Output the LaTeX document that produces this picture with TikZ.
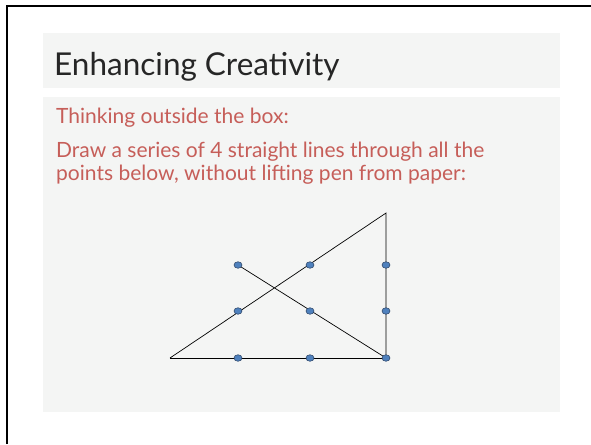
\documentclass[tikz,border=0pt]{standalone}
\usepackage{fontspec}
\setmainfont{Lato}
\usepackage{xcolor}
\usepackage{tikz}
\definecolor{slidegray}{HTML}{F4F5F4}
\definecolor{slidered}{HTML}{C65E59}
\definecolor{dotblue}{HTML}{4F81BD}
\definecolor{dotedge}{HTML}{2B4466}
\tikzset{
	dot/.style={draw=dotedge,fill=dotblue,line width=0.6pt,ellipse,minimum width=8pt,minimum height=6.5pt,inner sep=0pt},
	bodytext/.style={anchor=base west,inner sep=0pt,text=slidered,font=\fontsize{21}{25}\selectfont}
}
\usetikzlibrary{shapes.geometric}

\begin{document}
\begin{tikzpicture}[x=1pt,y=-1pt]
		\useasboundingbox (0,0) rectangle (591,444);
		\fill[white] (0,0) rectangle (591,444);
		\draw[line width=2pt] (7,444) to (7,6) to (591,6);
		
		\fill[slidegray] (43,33) rectangle (560,88);
		\fill[slidegray] (43,97) rectangle (560,412);
		
		\node[anchor=base west,inner sep=0pt,text=black!85,font=\fontsize{31.5}{36}\selectfont] (title) at (54,75) {Enhancing Creativity};
		\node[bodytext] (intro) at (56,123) {Thinking outside the box:};
		\node[bodytext] (task1) at (56,157) {Draw a series of 4 straight lines through all the};
		\node[bodytext] (task2) at (56,180) {points below, without lifting pen from paper:};
		
		\coordinate (apex) at (386,213);
		\coordinate (tail) at (170,358);
		\foreach \c/\x in {1/238,2/310,3/386}
		{
		\foreach \r/\y in {1/265,2/311,3/358}
		{
		\coordinate (p\c\r) at (\x,\y);
		}
		}
		
		\draw[line width=0.7pt] (tail) to (apex) to (p33) to (p11);
		\draw[line width=0.7pt] (tail) to (p33);
		
		\foreach \c in {1,2,3}
		{
		\foreach \r in {1,2,3}
		{
		\node[dot] (d\c\r) at (p\c\r) {};
		}
		}
\end{tikzpicture}
\end{document}
